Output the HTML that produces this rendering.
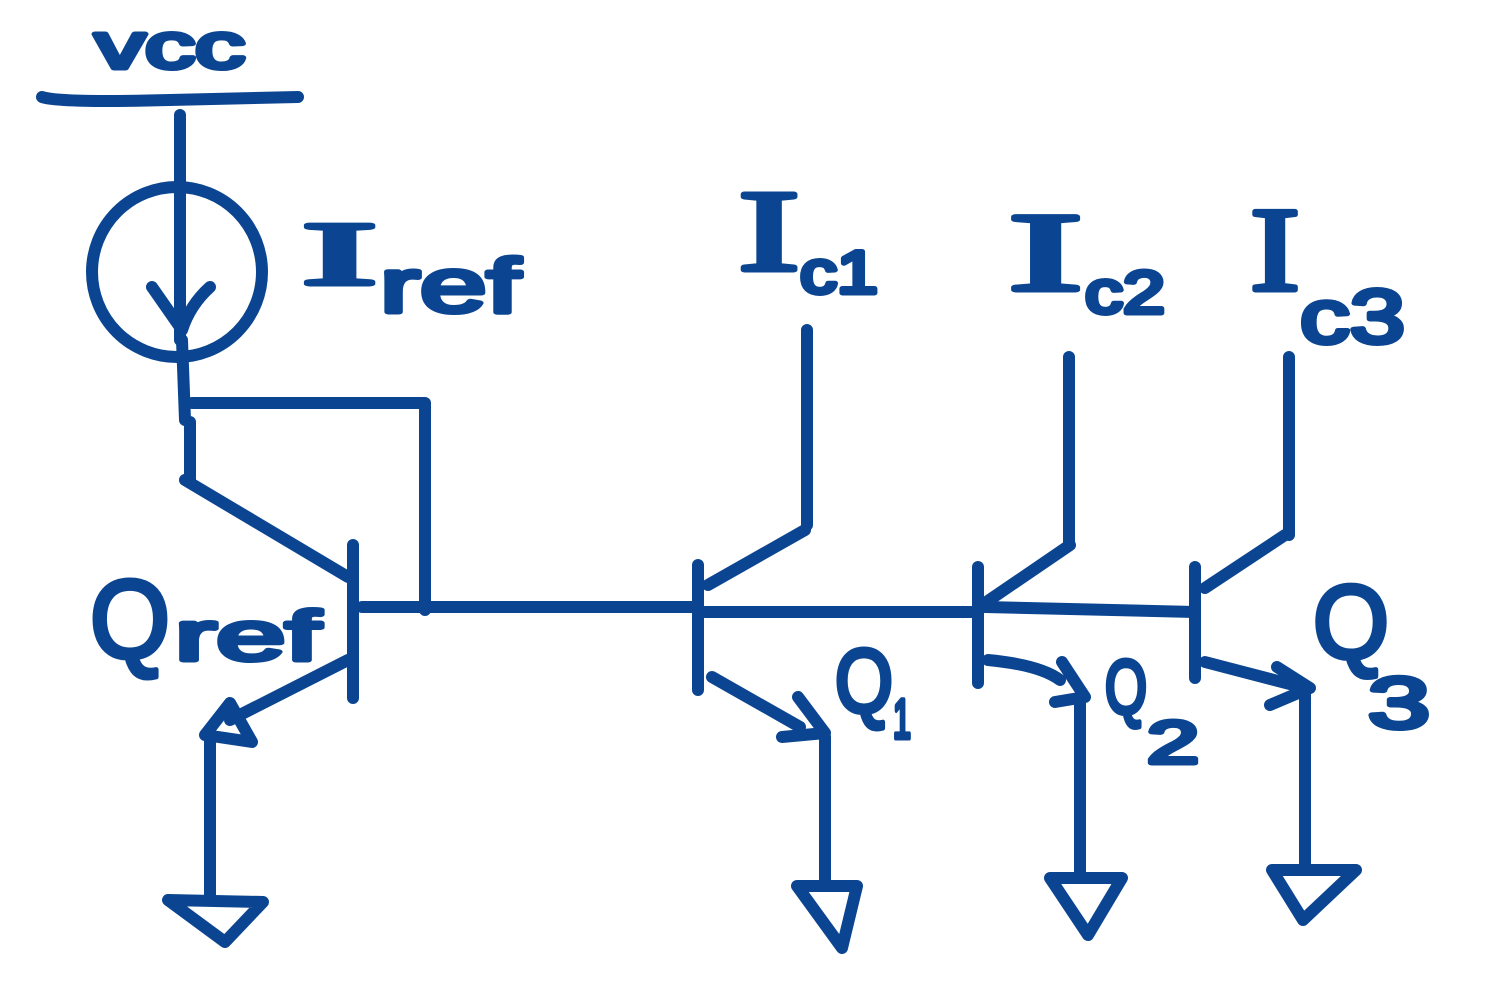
<!DOCTYPE html>
<html>
<head>
<meta charset="utf-8">
<style>
html,body{margin:0;padding:0;background:#fff;}
svg{display:block;}
.w{fill:none;stroke:#0b4591;stroke-width:12;stroke-linecap:round;stroke-linejoin:round;}
.t{font-family:"Liberation Sans",sans-serif;fill:#0b4591;stroke:#0b4591;stroke-width:5;stroke-linejoin:round;}
.s{font-family:"Liberation Serif",serif;fill:#0b4591;stroke:#0b4591;stroke-width:5;stroke-linejoin:round;}
</style>
</head>
<body>
<svg width="1501" height="1000" viewBox="0 0 1501 1000">
  <g>
    <text class="t" x="95" y="68" font-size="64" textLength="150" lengthAdjust="spacingAndGlyphs">vcc</text>
    <path class="w" d="M42 97 Q60 103 170 100 Q250 98 298 97"/>
    <path class="w" d="M180 115 L180 340"/>
  </g>
  <g>
    <circle class="w" cx="177" cy="272" r="85"/>
    <path class="w" d="M152 287 L182 330 M182 330 Q190 305 210 287"/>
    <g>
      <text class="s" x="302" y="284" font-size="90" textLength="75" lengthAdjust="spacingAndGlyphs">I</text>
      <text class="t" x="380" y="312" font-size="76" textLength="140" lengthAdjust="spacingAndGlyphs">ref</text>
    </g>
  </g>
  <g>
    <path class="w" d="M182 340 L185 420 M190 422 L190 480 M192 403 L425 403 L425 610"/>
    <path class="w" d="M185 480 L348 577"/>
    <path class="w" d="M353 545 L353 698"/>
    <path class="w" d="M362 607 L695 607"/>
    <path class="w" d="M348 660 L230 720"/>
    <path class="w" d="M205 735 L230 703 L252 742 Z"/>
    <path class="w" d="M210 735 L210 895"/>
    <path class="w" d="M168 900 L263 902 L225 942 Z"/>
    <g>
      <text class="t" x="90" y="657" font-size="110" textLength="80" lengthAdjust="spacingAndGlyphs">Q</text>
      <text class="t" x="175" y="660" font-size="70" textLength="145" lengthAdjust="spacingAndGlyphs">ref</text>
    </g>
  </g>
  <g>
    <path class="w" d="M698 565 L698 690"/>
    <path class="w" d="M708 585 L805 530 M807 330 L807 525"/>
    <path class="w" d="M712 677 L800 727"/>
    <path class="w" d="M798 697 L825 733 L782 737"/>
    <path class="w" d="M825 737 L825 880"/>
    <path class="w" d="M797 886 L857 886 L842 948 Z"/>
    <path class="w" d="M705 612 L975 612"/>
    <g>
      <text class="s" x="738" y="270" font-size="116" textLength="62" lengthAdjust="spacingAndGlyphs">I</text>
      <text class="t" x="800" y="293" font-size="60" textLength="78" lengthAdjust="spacingAndGlyphs">c1</text>
    </g>
    <g>
      <text class="t" x="835" y="712" font-size="90" textLength="58" lengthAdjust="spacingAndGlyphs">Q</text>
      <text class="t" x="893" y="738" font-size="56" textLength="18" lengthAdjust="spacingAndGlyphs">1</text>
    </g>
  </g>
  <g>
    <path class="w" d="M978 567 L978 683"/>
    <path class="w" d="M985 603 L1070 545 M1069 357 L1069 545"/>
    <path class="w" d="M988 660 Q1040 665 1060 680"/>
    <path class="w" d="M1062 662 L1085 697 L1055 702"/>
    <path class="w" d="M1080 700 L1080 875"/>
    <path class="w" d="M1050 878 L1122 878 L1088 935 Z"/>
    <path class="w" d="M985 607 L1195 612"/>
    <g>
      <text class="s" x="1008" y="290" font-size="112" textLength="75" lengthAdjust="spacingAndGlyphs">I</text>
      <text class="t" x="1085" y="313" font-size="60" textLength="80" lengthAdjust="spacingAndGlyphs">c2</text>
    </g>
    <g>
      <text class="t" x="1105" y="713" font-size="76" textLength="42" lengthAdjust="spacingAndGlyphs">Q</text>
      <text class="t" x="1147" y="763" font-size="60" textLength="52" lengthAdjust="spacingAndGlyphs">2</text>
    </g>
  </g>
  <g>
    <path class="w" d="M1195 567 L1195 678"/>
    <path class="w" d="M1205 588 L1285 535 M1289 357 L1289 535"/>
    <path class="w" d="M1205 662 L1305 688"/>
    <path class="w" d="M1277 667 L1310 688 L1270 705"/>
    <path class="w" d="M1305 690 L1305 865"/>
    <path class="w" d="M1272 870 L1356 870 L1303 920 Z"/>
    <g>
      <text class="s" x="1250" y="290" font-size="120" textLength="50" lengthAdjust="spacingAndGlyphs">I</text>
      <text class="t" x="1300" y="343" font-size="76" textLength="105" lengthAdjust="spacingAndGlyphs">c3</text>
    </g>
    <g>
      <text class="t" x="1313" y="658" font-size="104" textLength="76" lengthAdjust="spacingAndGlyphs">Q</text>
      <text class="t" x="1368" y="728" font-size="72" textLength="62" lengthAdjust="spacingAndGlyphs">3</text>
    </g>
  </g>
</svg>
</body>
</html>
